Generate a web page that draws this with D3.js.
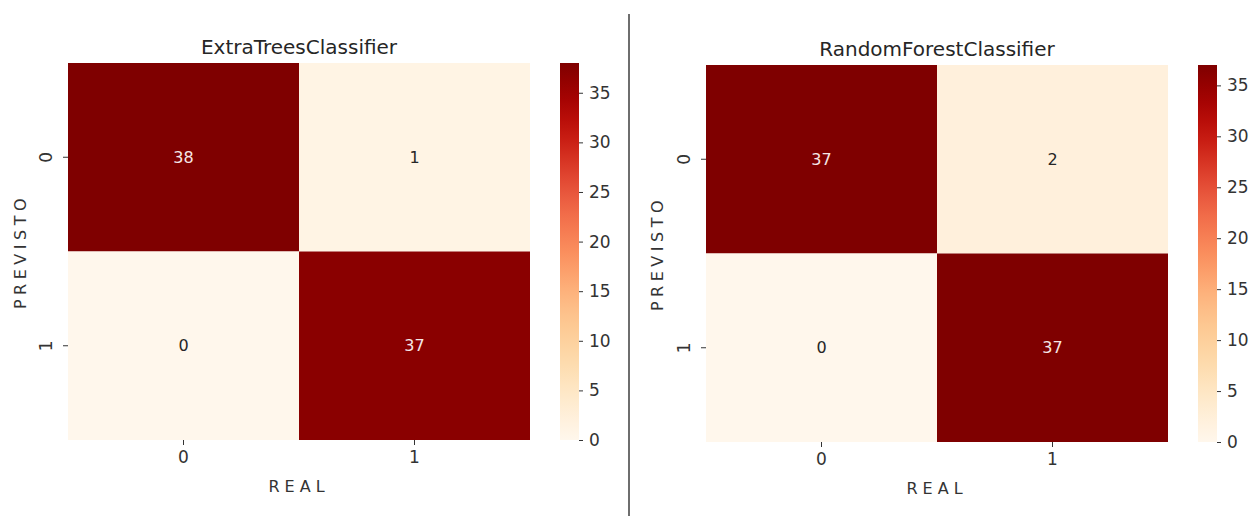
<!DOCTYPE html>
<html>
<head>
<meta charset="utf-8">
<script src="https://cdn.jsdelivr.net/npm/d3@7"></script>
<style>
  html, body { margin: 0; padding: 0; background: #fff; }
  svg { display: block; }
  text { font-family: "DejaVu Sans", sans-serif; }
</style>
</head>
<body>
<svg id="chart" width="1253" height="516"></svg>
<script>
// ---- data ----
const rowLabels = ["0", "1"];          // PREVISTO
const colLabels = ["0", "1"];          // REAL
const extraTreesValues = [[38, 1], [0, 37]];
const randomForestValues = [[37, 2], [0, 37]];
const colorbarTicks = [0, 5, 10, 15, 20, 25, 30, 35];
const titles = ["ExtraTreesClassifier", "RandomForestClassifier"];

// ---- layout ----
const panels = [
  { title: titles[0], values: extraTreesValues, x0: 68, x1: 530, y0: 63, y1: 440, cbX: 560, ylabX: 20, ytickX: 46 },
  { title: titles[1], values: randomForestValues, x0: 706, x1: 1168, y0: 65, y1: 442, cbX: 1198, ylabX: 657, ytickX: 684 }
];
const cbW = 19;
const svg = d3.select("#chart");
const defs = svg.append("defs");

panels.forEach((p, pi) => {
  const flat = p.values.flat();
  const vmin = d3.min(flat), vmax = d3.max(flat);
  const color = d3.scaleSequential(d3.interpolateOrRd).domain([vmin, vmax]);

  const x = d3.scaleBand().domain(colLabels).range([p.x0, p.x1]);
  const y = d3.scaleBand().domain(rowLabels).range([p.y0, p.y1]);

  const g = svg.append("g");
  const cells = [];
  rowLabels.forEach((r, i) => colLabels.forEach((c, j) => cells.push({ r, c, v: p.values[i][j] })));

  g.selectAll("rect.cell").data(cells).join("rect")
    .attr("class", "cell")
    .attr("x", d => x(d.c)).attr("y", d => y(d.r))
    .attr("width", x.bandwidth()).attr("height", y.bandwidth())
    .attr("fill", d => color(d.v));

  g.selectAll("text.annot").data(cells).join("text")
    .attr("class", "annot")
    .attr("x", d => x(d.c) + x.bandwidth() / 2)
    .attr("y", d => y(d.r) + y.bandwidth() / 2)
    .attr("dy", "0.35em")
    .attr("text-anchor", "middle")
    .attr("font-size", 16)
    .attr("fill", d => (d.v - vmin) / (vmax - vmin) > 0.5 ? "#f5e6e6" : "#262626")
    .text(d => d.v);

  // x axis
  const xAxis = g.append("g").attr("transform", `translate(0,${p.y1})`)
    .call(d3.axisBottom(x).tickSize(5).tickPadding(6));
  xAxis.select(".domain").remove();
  xAxis.selectAll("text").attr("font-size", 17).attr("fill", "#333").attr("font-family", "DejaVu Sans");
  xAxis.selectAll("line").attr("stroke", "#333");

  // y axis
  const yAxis = g.append("g").attr("transform", `translate(${p.x0},0)`)
    .call(d3.axisLeft(y).tickSize(5));
  yAxis.select(".domain").remove();
  yAxis.selectAll("line").attr("stroke", "#333");
  yAxis.selectAll("text")
    .attr("font-size", 17).attr("fill", "#333").attr("font-family", "DejaVu Sans")
    .attr("x", null).attr("dy", null)
    .attr("text-anchor", "middle")
    .attr("transform", `translate(${p.ytickX - p.x0 + 6},0) rotate(-90)`);

  // axis labels
  g.append("text")
    .attr("x", (p.x0 + p.x1) / 2).attr("y", p.y1 + 52)
    .attr("text-anchor", "middle").attr("font-size", 16).attr("fill", "#333")
    .attr("letter-spacing", "5px")
    .text("REAL");
  g.append("text")
    .attr("transform", `translate(${p.ylabX + 6},${(p.y0 + p.y1) / 2}) rotate(-90)`)
    .attr("text-anchor", "middle").attr("font-size", 16).attr("fill", "#333")
    .attr("letter-spacing", "4.5px")
    .text("PREVISTO");

  // title
  g.append("text")
    .attr("x", (p.x0 + p.x1) / 2).attr("y", p.y0 - 9)
    .attr("text-anchor", "middle").attr("font-size", 20).attr("fill", "#262626")
    .text(p.title);

  // colorbar
  const gradId = "grad" + pi;
  const grad = defs.append("linearGradient").attr("id", gradId)
    .attr("x1", 0).attr("y1", 1).attr("x2", 0).attr("y2", 0);
  d3.range(0, 1.0001, 0.05).forEach(t => {
    grad.append("stop").attr("offset", t).attr("stop-color", color(vmin + t * (vmax - vmin)));
  });
  g.append("rect").attr("x", p.cbX).attr("y", p.y0).attr("width", cbW).attr("height", p.y1 - p.y0)
    .attr("fill", `url(#${gradId})`);
  const cbScale = d3.scaleLinear().domain([vmin, vmax]).range([p.y1, p.y0]);
  const cbAxis = g.append("g").attr("transform", `translate(${p.cbX + cbW},0)`)
    .call(d3.axisRight(cbScale).tickValues(colorbarTicks).tickSize(4).tickPadding(6));
  cbAxis.select(".domain").remove();
  cbAxis.selectAll("line").attr("stroke", "#333");
  cbAxis.selectAll("text").attr("font-size", 17).attr("fill", "#333").attr("font-family", "DejaVu Sans");
});

// divider
svg.append("line").attr("x1", 629).attr("x2", 629).attr("y1", 14).attr("y2", 516)
  .attr("stroke", "#6e6e6e").attr("stroke-width", 2);
</script>
</body>
</html>
